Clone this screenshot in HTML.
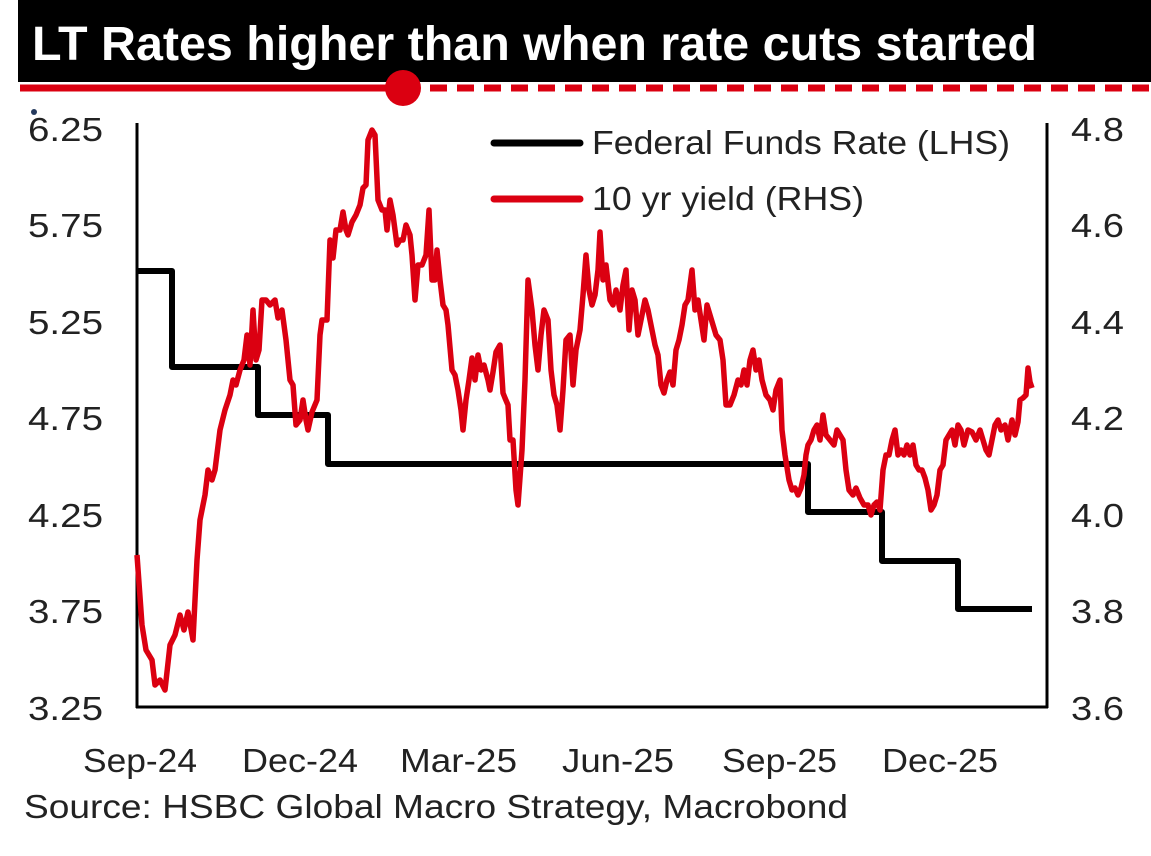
<!DOCTYPE html>
<html><head><meta charset="utf-8"><style>html,body{margin:0;padding:0;background:#fff}</style></head>
<body>
<svg width="1151" height="851" viewBox="0 0 1151 851" xmlns="http://www.w3.org/2000/svg" font-family="Liberation Sans, sans-serif">
<rect x="18" y="0" width="1133" height="82" fill="#000"/>
<text x="32" y="60" fill="#fff" font-size="48" font-weight="bold" textLength="1005" lengthAdjust="spacingAndGlyphs">LT Rates higher than when rate cuts started</text>
<line x1="20" y1="88" x2="403" y2="88" stroke="#db0011" stroke-width="7"/>
<line x1="403" y1="88" x2="1151" y2="88" stroke="#db0011" stroke-width="7" stroke-dasharray="17,10"/>
<circle cx="403" cy="88" r="18" fill="#db0011"/>
<circle cx="34" cy="112" r="3" fill="#253a5e"/>
<line x1="137" y1="123" x2="137" y2="708" stroke="#000" stroke-width="3"/>
<line x1="136" y1="707" x2="1048" y2="707" stroke="#000" stroke-width="3"/>
<line x1="1047" y1="123" x2="1047" y2="708" stroke="#000" stroke-width="3"/>
<g font-size="33" fill="#222">
<text x="28" y="141" textLength="75" lengthAdjust="spacingAndGlyphs">6.25</text><text x="28" y="237" textLength="75" lengthAdjust="spacingAndGlyphs">5.75</text><text x="28" y="334" textLength="75" lengthAdjust="spacingAndGlyphs">5.25</text><text x="28" y="430" textLength="75" lengthAdjust="spacingAndGlyphs">4.75</text><text x="28" y="527" textLength="75" lengthAdjust="spacingAndGlyphs">4.25</text><text x="28" y="623" textLength="75" lengthAdjust="spacingAndGlyphs">3.75</text><text x="28" y="720" textLength="75" lengthAdjust="spacingAndGlyphs">3.25</text>
<text x="1071" y="141" textLength="53" lengthAdjust="spacingAndGlyphs">4.8</text><text x="1071" y="237" textLength="53" lengthAdjust="spacingAndGlyphs">4.6</text><text x="1071" y="334" textLength="53" lengthAdjust="spacingAndGlyphs">4.4</text><text x="1071" y="430" textLength="53" lengthAdjust="spacingAndGlyphs">4.2</text><text x="1071" y="527" textLength="53" lengthAdjust="spacingAndGlyphs">4.0</text><text x="1071" y="623" textLength="53" lengthAdjust="spacingAndGlyphs">3.8</text><text x="1071" y="720" textLength="53" lengthAdjust="spacingAndGlyphs">3.6</text>
<text x="83" y="772" textLength="114" lengthAdjust="spacingAndGlyphs">Sep-24</text><text x="242" y="772" textLength="116" lengthAdjust="spacingAndGlyphs">Dec-24</text><text x="400" y="772" textLength="117" lengthAdjust="spacingAndGlyphs">Mar-25</text><text x="562" y="772" textLength="112" lengthAdjust="spacingAndGlyphs">Jun-25</text><text x="722" y="772" textLength="115" lengthAdjust="spacingAndGlyphs">Sep-25</text><text x="882" y="772" textLength="116" lengthAdjust="spacingAndGlyphs">Dec-25</text>
<text x="24" y="818" textLength="824" lengthAdjust="spacingAndGlyphs">Source: HSBC Global Macro Strategy, Macrobond</text>
<text x="592" y="154" textLength="418" lengthAdjust="spacingAndGlyphs">Federal Funds Rate (LHS)</text>
<text x="592" y="210" textLength="272" lengthAdjust="spacingAndGlyphs">10 yr yield (RHS)</text>
</g>
<line x1="494" y1="143" x2="580" y2="143" stroke="#000" stroke-width="7" stroke-linecap="round"/>
<line x1="494" y1="199" x2="580" y2="199" stroke="#db0011" stroke-width="7" stroke-linecap="round"/>
<polyline fill="none" stroke="#000" stroke-width="6" stroke-linejoin="round" points="137,271 172,271 172,367 258,367 258,415 328,415 328,464 808,464 808,512 882,512 882,561 958,561 958,609 1032,609"/>
<polyline fill="none" stroke="#db0011" stroke-width="5.5" stroke-linejoin="round" points="137,555 142,625 146,650 152,660 155,685 160,680 165,690 170,645 175,635 180,615 184,630 188,612 193,640 197,560 200,520 205,495 208,470 212,480 215,470 220,430 225,410 230,395 233,380 236,385 240,370 244,360 247,335 250,365 253,310 256,360 259,350 262,300 266,300 270,305 275,300 278,318 282,310 286,340 290,380 293,385 296,425 300,420 303,400 306,420 308,430 312,412 317,400 320,335 322,320 327,320 330,240 333,258 336,230 340,230 343,212 346,230 348,235 352,222 356,215 360,205 363,188 366,185 368,140 372,130 375,135 378,200 382,210 385,210 387,230 390,200 393,215 397,245 400,240 403,240 406,225 410,235 412,255 415,300 418,265 422,265 426,255 429,210 432,280 435,280 437,250 440,280 443,305 446,310 448,325 452,370 455,375 458,390 461,410 463,430 466,400 469,380 472,358 475,380 478,355 481,370 484,365 488,380 490,390 493,372 496,352 500,345 503,393 505,398 508,405 510,440 513,440 516,490 518,505 522,450 525,380 528,280 532,310 535,345 538,370 541,335 544,310 548,320 551,370 554,395 557,405 560,430 563,390 566,340 570,335 573,385 576,350 580,330 583,295 586,255 589,290 592,305 595,295 598,270 600,232 603,280 606,265 610,300 613,305 616,290 620,310 623,285 626,270 629,330 632,290 635,300 638,335 641,320 645,300 648,310 652,330 655,345 658,355 661,385 664,393 667,380 670,372 673,385 676,350 679,340 682,325 685,305 688,300 692,270 695,310 698,300 701,320 704,340 707,305 710,315 713,325 716,335 720,340 723,360 726,405 730,405 734,395 738,380 741,385 744,370 747,385 750,360 753,350 756,370 759,360 762,380 766,395 770,400 773,410 776,390 780,380 782,430 785,455 789,480 792,490 795,488 798,495 801,488 804,475 806,455 808,445 811,440 814,430 817,425 820,440 823,415 826,435 830,440 834,445 837,430 840,435 843,440 846,470 849,490 853,495 856,488 860,498 864,505 868,505 871,515 874,505 877,502 880,510 883,470 886,455 889,455 892,440 895,430 898,455 901,450 904,455 907,445 910,455 913,445 916,465 919,470 922,470 925,478 928,490 931,510 934,505 937,495 940,470 943,465 946,440 949,435 952,430 955,445 958,425 961,430 964,445 968,430 972,432 976,440 980,430 983,440 986,450 989,455 992,440 995,425 998,420 1001,430 1005,425 1008,440 1012,420 1015,435 1018,422 1020,400 1023,398 1026,395 1028,368 1030,382 1032,388"/>
</svg>
</body></html>
